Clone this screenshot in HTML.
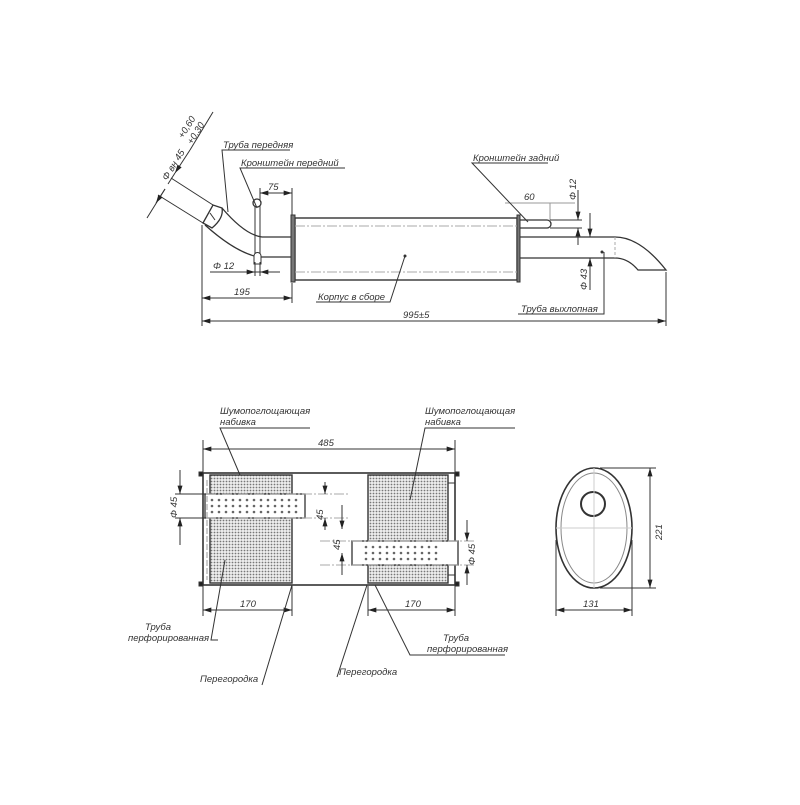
<!DOCTYPE html>
<html><head><meta charset="utf-8"><style>
html,body{margin:0;padding:0;background:#fff}
text{font-family:"Liberation Sans",sans-serif;font-style:italic;font-size:9.5px;fill:#333}
</style></head><body>
<svg width="800" height="800" viewBox="0 0 800 800" xmlns="http://www.w3.org/2000/svg">
<defs>
<marker id="a" viewBox="0 0 10 6" refX="10" refY="3" markerWidth="10" markerHeight="5" orient="auto-start-reverse"><path d="M0,0L10,3L0,6z" fill="#222"/></marker>
<pattern id="h" width="3" height="3" patternUnits="userSpaceOnUse"><rect width="3" height="3" fill="#eee"/><circle cx="1.5" cy="1.5" r="0.9" fill="#777"/></pattern>
</defs>
<g stroke="#333" fill="none" stroke-width="1">
<!-- TOP VIEW -->
<rect x="295" y="218" width="222" height="62" stroke-width="1.4"/>
<rect x="291" y="215" width="4" height="67" fill="#777"/>
<rect x="517" y="215" width="3" height="67" fill="#777"/>
<line x1="295" y1="226" x2="517" y2="226" stroke="#aaa" stroke-dasharray="10,2,2,2"/>
<line x1="295" y1="272" x2="517" y2="272" stroke="#aaa" stroke-dasharray="10,2,2,2"/>
<!-- inlet pipe -->
<path d="M291,237 L262,237 Q245,235 222,208" stroke-width="1.3"/>
<path d="M291,257 L258,257 Q235,252 205,225" stroke-width="1.3"/>
<path d="M203,223 L213,205 L222,208 Q224,218 212,228 Z" fill="#fff" stroke-width="1.3"/>
<line x1="210" y1="213" x2="215" y2="220"/>
<!-- front bracket -->
<line x1="255" y1="205" x2="255" y2="262"/><line x1="260" y1="205" x2="260" y2="262"/>
<circle cx="257" cy="203" r="4" fill="#fff" stroke-width="1.3"/>
<path d="M254,256 a3.5,3.5 0 0 1 7,0 v8 h-7z" fill="#fff"/>
<!-- rear bracket -->
<path d="M520,220 H547 a4,4 0 0 1 0,8 H520" stroke-width="1.3"/>
<!-- exit pipe -->
<path d="M520,237 H615 Q640,237 666,270 H638 Q628,258 615,258 H520" stroke-width="1.3"/>
<line x1="615" y1="237" x2="615" y2="258" stroke="#aaa" stroke-dasharray="3,2"/>
<!-- dims top -->
<line x1="202" y1="225" x2="202" y2="326"/>
<line x1="666" y1="272" x2="666" y2="326"/>
<line x1="292" y1="283" x2="292" y2="303"/>
<line x1="202" y1="321" x2="666" y2="321" marker-start="url(#a)" marker-end="url(#a)"/>
<line x1="202" y1="298" x2="292" y2="298" marker-start="url(#a)" marker-end="url(#a)"/>
<line x1="260" y1="193" x2="292" y2="193" marker-start="url(#a)" marker-end="url(#a)"/>
<line x1="292" y1="188" x2="292" y2="215"/><line x1="260" y1="188" x2="260" y2="200"/>
<line x1="210" y1="272" x2="280" y2="272"/>
<line x1="235" y1="272" x2="255" y2="272" marker-end="url(#a)"/><line x1="280" y1="272" x2="260" y2="272" marker-end="url(#a)"/>
<line x1="255" y1="262" x2="255" y2="276"/><line x1="260" y1="262" x2="260" y2="276"/>
<line x1="505" y1="203" x2="575" y2="203" stroke="#999"/>
<line x1="550" y1="203" x2="550" y2="220" stroke="#999"/>
<line x1="578" y1="190" x2="578" y2="220" marker-end="url(#a)"/>
<line x1="578" y1="245" x2="578" y2="228" marker-end="url(#a)"/>
<line x1="550" y1="220" x2="582" y2="220"/><line x1="550" y1="228" x2="582" y2="228"/>
<line x1="590" y1="213" x2="590" y2="237" marker-end="url(#a)"/>
<line x1="590" y1="290" x2="590" y2="258" marker-end="url(#a)"/>
<line x1="600" y1="237" x2="586" y2="237"/><line x1="600" y1="258" x2="586" y2="258"/>
<!-- diameter inlet -->
<line x1="213" y1="205" x2="171" y2="178"/>
<line x1="203" y1="223" x2="158" y2="195"/>
<line x1="147" y1="218" x2="165" y2="189" />
<line x1="165" y1="189" x2="156" y2="203" marker-end="url(#a)"/>
<line x1="168" y1="184" x2="175" y2="173" />
<line x1="190" y1="150" x2="175" y2="173" marker-end="url(#a)"/>
<line x1="190" y1="150" x2="213" y2="112"/>
<!-- leaders top -->
<path d="M290,150 H222 L228,212"/>
<path d="M345,168 H240 L257,208"/>
<path d="M548,163 H472 L528,222"/>
<path d="M316,302 H390 L405,256"/><circle cx="405" cy="256" r="1" fill="#333"/>
<path d="M518,314 H604 V252"/><circle cx="602" cy="252" r="1" fill="#333"/>
<!-- BOTTOM SECTION -->
<rect x="203" y="473" width="252" height="112" stroke-width="1.6"/>
<rect x="210" y="475" width="82" height="108" fill="url(#h)" stroke-width="1.4"/>
<rect x="368" y="475" width="80" height="108" fill="url(#h)" stroke-width="1.4"/>
<rect x="205" y="494" width="100" height="24" fill="#fff" stroke-width="1.3"/>
<rect x="352" y="541" width="106" height="24" fill="#fff" stroke-width="1.3"/>
<rect x="199" y="472" width="4" height="4" fill="#222"/><rect x="199" y="582" width="4" height="4" fill="#222"/>
<rect x="455" y="472" width="4" height="4" fill="#222"/><rect x="455" y="582" width="4" height="4" fill="#222"/>
<line x1="448" y1="483" x2="455" y2="483"/><line x1="448" y1="575" x2="455" y2="575"/>
<line x1="207" y1="480" x2="207" y2="580" stroke="#999" stroke-dasharray="6,2"/>
<line x1="190" y1="494" x2="350" y2="494" stroke="#aaa" stroke-dasharray="10,2,2,2"/>
<line x1="190" y1="518" x2="350" y2="518" stroke="#aaa" stroke-dasharray="10,2,2,2"/>
<line x1="320" y1="541" x2="475" y2="541" stroke="#aaa" stroke-dasharray="10,2,2,2"/>
<line x1="320" y1="565" x2="475" y2="565" stroke="#aaa" stroke-dasharray="10,2,2,2"/>
<line x1="203" y1="449" x2="455" y2="449" marker-start="url(#a)" marker-end="url(#a)"/>
<line x1="203" y1="440" x2="203" y2="472"/><line x1="455" y1="440" x2="455" y2="472"/>
<line x1="203" y1="610" x2="292" y2="610" marker-start="url(#a)" marker-end="url(#a)"/>
<line x1="368" y1="610" x2="455" y2="610" marker-start="url(#a)" marker-end="url(#a)"/>
<line x1="203" y1="586" x2="203" y2="616"/><line x1="292" y1="586" x2="292" y2="616"/>
<line x1="368" y1="586" x2="368" y2="616"/><line x1="455" y1="586" x2="455" y2="616"/>
<line x1="180" y1="470" x2="180" y2="494" marker-end="url(#a)"/>
<line x1="180" y1="545" x2="180" y2="518" marker-end="url(#a)"/>
<line x1="175" y1="494" x2="205" y2="494"/><line x1="175" y1="518" x2="205" y2="518"/>
<line x1="325" y1="482" x2="325" y2="494" marker-end="url(#a)"/>
<line x1="325" y1="530" x2="325" y2="518" marker-end="url(#a)"/>
<line x1="342" y1="505" x2="342" y2="529" marker-end="url(#a)"/>
<line x1="342" y1="575" x2="342" y2="553" marker-end="url(#a)"/>
<line x1="467" y1="520" x2="467" y2="541" marker-end="url(#a)"/>
<line x1="467" y1="585" x2="467" y2="565" marker-end="url(#a)"/>
<!-- leaders bottom -->
<path d="M310,428 H220 L240,475"/>
<path d="M515,428 H425 L410,500"/>
<path d="M218,640 H211 L225,560"/>
<path d="M505,655 H410 L375,585"/>
<path d="M262,685 L292,585"/>
<path d="M337,677 L367,585"/>
<!-- oval -->
<ellipse cx="594" cy="528" rx="38" ry="60" stroke-width="1.6"/>
<ellipse cx="594" cy="528" rx="33" ry="55" stroke="#888"/>
<circle cx="593" cy="504" r="12" stroke-width="2"/>
<line x1="594" y1="468" x2="594" y2="588" stroke="#ccc"/>
<line x1="556" y1="528" x2="632" y2="528" stroke="#ccc"/>
<line x1="650" y1="468" x2="650" y2="588" marker-start="url(#a)" marker-end="url(#a)"/>
<line x1="600" y1="468" x2="656" y2="468"/><line x1="600" y1="588" x2="656" y2="588"/>
<line x1="556" y1="610" x2="632" y2="610" marker-start="url(#a)" marker-end="url(#a)"/>
<line x1="556" y1="540" x2="556" y2="616"/><line x1="632" y1="540" x2="632" y2="616"/>
</g>
<g fill="#666">
<circle cx="212" cy="500" r="1.3"/><circle cx="219" cy="500" r="1.3"/><circle cx="226" cy="500" r="1.3"/><circle cx="233" cy="500" r="1.3"/><circle cx="240" cy="500" r="1.3"/><circle cx="247" cy="500" r="1.3"/><circle cx="254" cy="500" r="1.3"/><circle cx="261" cy="500" r="1.3"/><circle cx="268" cy="500" r="1.3"/><circle cx="275" cy="500" r="1.3"/><circle cx="282" cy="500" r="1.3"/><circle cx="289" cy="500" r="1.3"/><circle cx="296" cy="500" r="1.3"/>
<circle cx="212" cy="506" r="1.3"/><circle cx="219" cy="506" r="1.3"/><circle cx="226" cy="506" r="1.3"/><circle cx="233" cy="506" r="1.3"/><circle cx="240" cy="506" r="1.3"/><circle cx="247" cy="506" r="1.3"/><circle cx="254" cy="506" r="1.3"/><circle cx="261" cy="506" r="1.3"/><circle cx="268" cy="506" r="1.3"/><circle cx="275" cy="506" r="1.3"/><circle cx="282" cy="506" r="1.3"/><circle cx="289" cy="506" r="1.3"/><circle cx="296" cy="506" r="1.3"/>
<circle cx="212" cy="512" r="1.3"/><circle cx="219" cy="512" r="1.3"/><circle cx="226" cy="512" r="1.3"/><circle cx="233" cy="512" r="1.3"/><circle cx="240" cy="512" r="1.3"/><circle cx="247" cy="512" r="1.3"/><circle cx="254" cy="512" r="1.3"/><circle cx="261" cy="512" r="1.3"/><circle cx="268" cy="512" r="1.3"/><circle cx="275" cy="512" r="1.3"/><circle cx="282" cy="512" r="1.3"/><circle cx="289" cy="512" r="1.3"/><circle cx="296" cy="512" r="1.3"/>
<circle cx="366" cy="547" r="1.3"/><circle cx="373" cy="547" r="1.3"/><circle cx="380" cy="547" r="1.3"/><circle cx="387" cy="547" r="1.3"/><circle cx="394" cy="547" r="1.3"/><circle cx="401" cy="547" r="1.3"/><circle cx="408" cy="547" r="1.3"/><circle cx="415" cy="547" r="1.3"/><circle cx="422" cy="547" r="1.3"/><circle cx="429" cy="547" r="1.3"/><circle cx="436" cy="547" r="1.3"/>
<circle cx="366" cy="553" r="1.3"/><circle cx="373" cy="553" r="1.3"/><circle cx="380" cy="553" r="1.3"/><circle cx="387" cy="553" r="1.3"/><circle cx="394" cy="553" r="1.3"/><circle cx="401" cy="553" r="1.3"/><circle cx="408" cy="553" r="1.3"/><circle cx="415" cy="553" r="1.3"/><circle cx="422" cy="553" r="1.3"/><circle cx="429" cy="553" r="1.3"/><circle cx="436" cy="553" r="1.3"/>
<circle cx="366" cy="559" r="1.3"/><circle cx="373" cy="559" r="1.3"/><circle cx="380" cy="559" r="1.3"/><circle cx="387" cy="559" r="1.3"/><circle cx="394" cy="559" r="1.3"/><circle cx="401" cy="559" r="1.3"/><circle cx="408" cy="559" r="1.3"/><circle cx="415" cy="559" r="1.3"/><circle cx="422" cy="559" r="1.3"/><circle cx="429" cy="559" r="1.3"/><circle cx="436" cy="559" r="1.3"/>
</g>
<!-- TEXT -->
<text x="223" y="148">Труба передняя</text>
<text x="241" y="166">Кронштейн передний</text>
<text x="473" y="161">Кронштейн задний</text>
<text x="268" y="190">75</text>
<text x="524" y="200" fill="#888">60</text>
<text x="213" y="269">Φ 12</text>
<text x="234" y="295">195</text>
<text x="318" y="300">Корпус в сборе</text>
<text x="521" y="312">Труба выхлопная</text>
<text x="403" y="318">995±5</text>
<text transform="translate(576,200) rotate(-90)">Φ 12</text>
<text transform="translate(587,290) rotate(-90)">Φ 43</text>
<text transform="translate(167,181) rotate(-58)">Φ вн 45</text>
<text transform="translate(183,139) rotate(-58)" font-size="8">+0,60</text>
<text transform="translate(192,145) rotate(-58)" font-size="8">+0,30</text>
<text x="220" y="414">Шумопоглощающая</text>
<text x="220" y="425">набивка</text>
<text x="425" y="414">Шумопоглощающая</text>
<text x="425" y="425">набивка</text>
<text x="318" y="446">485</text>
<text x="240" y="607">170</text>
<text x="405" y="607">170</text>
<text x="583" y="607">131</text>
<text transform="translate(662,540) rotate(-90)">221</text>
<text transform="translate(177,518) rotate(-90)">Φ 45</text>
<text transform="translate(323,520) rotate(-90)">45</text>
<text transform="translate(340,550) rotate(-90)">45</text>
<text transform="translate(475,565) rotate(-90)">Φ 45</text>
<text x="145" y="630">Труба</text>
<text x="128" y="641">перфорированная</text>
<text x="443" y="641">Труба</text>
<text x="427" y="652">перфорированная</text>
<text x="200" y="682">Перегородка</text>
<text x="339" y="675">Перегородка</text>
</svg>
</body></html>
